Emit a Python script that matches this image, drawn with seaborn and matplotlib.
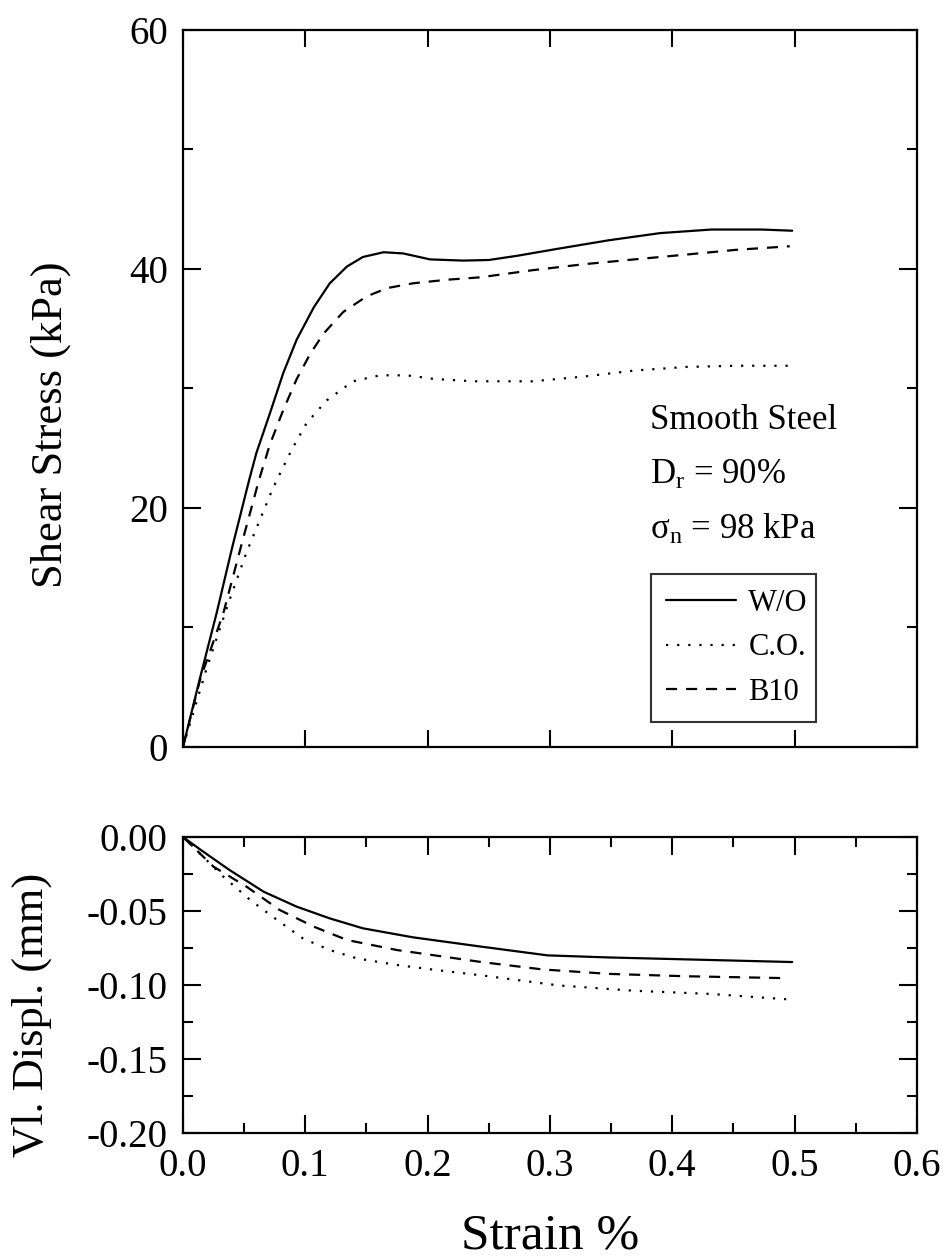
import numpy as np
import pandas as pd
import matplotlib
matplotlib.use("Agg")
import matplotlib.pyplot as plt
from matplotlib.ticker import MultipleLocator, FormatStrFormatter
import seaborn as sns

# values
# shear stress vs strain
strain_wo = [0.0, 0.014, 0.0275, 0.040, 0.054, 0.060, 0.071, 0.082, 0.093, 0.107, 0.120,
             0.134, 0.147, 0.164, 0.180, 0.202, 0.229, 0.250, 0.273, 0.307, 0.348,
             0.390, 0.432, 0.473, 0.498]
stress_wo = [0.0, 5.8, 11.2, 16.6, 22.3, 24.6, 27.9, 31.3, 34.1, 36.8, 38.8,
             40.2, 41.0, 41.4, 41.3, 40.8, 40.7, 40.75, 41.1, 41.7, 42.4,
             43.0, 43.3, 43.3, 43.2]

strain_co = [0.0, 0.0194, 0.037, 0.052, 0.0733, 0.078, 0.089, 0.101, 0.1175, 0.139, 0.161,
             0.183, 0.205, 0.237, 0.286, 0.328, 0.369, 0.411, 0.452, 0.496]
stress_co = [0.0, 6.6, 12.0, 16.3, 21.6, 22.6, 24.9, 27.1, 29.0, 30.6, 31.1,
             31.1, 30.8, 30.6, 30.6, 31.0, 31.5, 31.8, 31.9, 31.9]

strain_b10 = [0.0, 0.0139, 0.033, 0.048, 0.062, 0.071, 0.082, 0.093, 0.104, 0.115, 0.131,
              0.150, 0.167, 0.188, 0.216, 0.243, 0.286, 0.328, 0.369, 0.411, 0.452, 0.496]
stress_b10 = [0.0, 5.6, 11.2, 17.0, 22.3, 25.3, 28.2, 30.8, 32.9, 34.6, 36.4,
              37.7, 38.4, 38.8, 39.1, 39.3, 39.9, 40.4, 40.8, 41.2, 41.6, 41.9]

# vertical displacement vs strain
vstrain_wo = [0.0, 0.015, 0.038, 0.066, 0.093, 0.120, 0.147, 0.188, 0.243, 0.298,
              0.348, 0.411, 0.498]
vdisp_wo = [0.0, -0.009, -0.0223, -0.037, -0.0471, -0.055, -0.0617, -0.0678, -0.0740,
            -0.0800, -0.0814, -0.0827, -0.0845]

vstrain_co = [0.0, 0.011, 0.033, 0.055, 0.077, 0.098, 0.120, 0.142, 0.175, 0.207, 0.244,
              0.307, 0.369, 0.432, 0.498]
vdisp_co = [0.0, -0.0088, -0.0268, -0.0426, -0.0561, -0.0685, -0.0764, -0.0820, -0.0865,
            -0.0899, -0.0935, -0.1003, -0.1039, -0.1061, -0.1099]

vstrain_b10 = [0.0, 0.025, 0.052, 0.079, 0.107, 0.134, 0.175, 0.216, 0.244, 0.294, 0.348,
               0.411, 0.494]
vdisp_b10 = [0.0, -0.0201, -0.0336, -0.0493, -0.0606, -0.0696, -0.0764, -0.0812, -0.0845,
             -0.0895, -0.0925, -0.0941, -0.0954]

labels = ["W/O", "C.O.", "B10"]

sns.set_theme(style="ticks")
plt.rcParams["font.family"] = ["Liberation Serif", "DejaVu Serif"]
plt.rcParams["mathtext.fontset"] = "custom"
plt.rcParams["mathtext.rm"] = "Liberation Serif"
plt.rcParams["mathtext.it"] = "Liberation Serif:italic"
# plain black text like the printed figure
for key in ["text.color", "axes.labelcolor", "xtick.color", "ytick.color",
            "xtick.labelcolor", "ytick.labelcolor"]:
    plt.rcParams[key] = "black"

styles = {"W/O": "-", "C.O.": (0, (1, 4)), "B10": (0, (5, 4))}

fig = plt.figure(figsize=(9.52, 12.59), dpi=100)
ax1 = fig.add_axes([0.1922, 0.4067, 0.771, 0.5695])
ax2 = fig.add_axes([0.1922, 0.1001, 0.771, 0.2351])

top = [(strain_wo, stress_wo), (strain_co, stress_co), (strain_b10, stress_b10)]
bot = [(vstrain_wo, vdisp_wo), (vstrain_co, vdisp_co), (vstrain_b10, vdisp_b10)]

for lab, (x, y) in zip(labels, top):
    sns.lineplot(x=x, y=y, ax=ax1, color="black", linestyle=styles[lab],
                 linewidth=1.6, label=lab, sort=False)
for lab, (x, y) in zip(labels, bot):
    sns.lineplot(x=x, y=y, ax=ax2, color="black", linestyle=styles[lab],
                 linewidth=1.6, sort=False, legend=False)

for ax in (ax1, ax2):
    ax.set_xlim(0, 0.6)
    for s in ax.spines.values():
        s.set_visible(True)
        s.set_linewidth(1.6)
        s.set_color("black")
    ax.tick_params(which="both", direction="in", top=True, right=True,
                   width=1.5, color="black", labelcolor="black", labelsize=28, pad=11)
    ax.tick_params(which="major", length=13)
    ax.tick_params(which="minor", length=7)
    ax.xaxis.set_major_locator(MultipleLocator(0.1))
    ax.set_xlabel("")
    ax.set_ylabel("")

# top panel
ax1.set_ylim(0, 60)
ax1.yaxis.set_major_locator(MultipleLocator(20))
ax1.yaxis.set_minor_locator(MultipleLocator(10))
ax1.tick_params(axis="x", labelbottom=False, length=12)
ax1.set_ylabel("Shear Stress (kPa)", fontsize=32, color="black")
ax1.yaxis.set_label_coords(-0.152, 0.45)

ax1.text(0.636, 0.456, "Smooth Steel", transform=ax1.transAxes, fontsize=25, va="center")
ax1.text(0.636, 0.379, r"D$_{\rm r}$ = 90%", transform=ax1.transAxes, fontsize=25, va="center")
ax1.text(0.636, 0.303, r"σ$_{\rm n}$ = 98 kPa", transform=ax1.transAxes, fontsize=25, va="center")

leg = ax1.legend(loc="lower left", bbox_to_anchor=(0.637, 0.035, 0.225, 0.212),
                 mode="expand", fontsize=22, frameon=True, fancybox=False,
                 handlelength=2.3, handletextpad=0.4, labelspacing=0.5,
                 borderpad=0.5, borderaxespad=0, labelcolor="black")
leg.get_frame().set_edgecolor("black")
leg.get_frame().set_linewidth(1.5)
for t in leg.get_texts():
    t.set_ha("right")

# bottom panel
ax2.set_ylim(-0.20, 0.0)
ax2.yaxis.set_major_locator(MultipleLocator(0.05))
ax2.yaxis.set_minor_locator(MultipleLocator(0.025))
ax2.xaxis.set_minor_locator(MultipleLocator(0.05))
ax2.yaxis.set_major_formatter(FormatStrFormatter("%.2f"))
ax2.xaxis.set_major_formatter(FormatStrFormatter("%.1f"))
ax2.set_ylabel("Vl. Displ. (mm)", fontsize=32, color="black")
ax2.yaxis.set_label_coords(-0.178, 0.40)
ax2.set_xlabel("Strain %", fontsize=37, labelpad=20, color="black")

fig.savefig("out.png", dpi=100)
